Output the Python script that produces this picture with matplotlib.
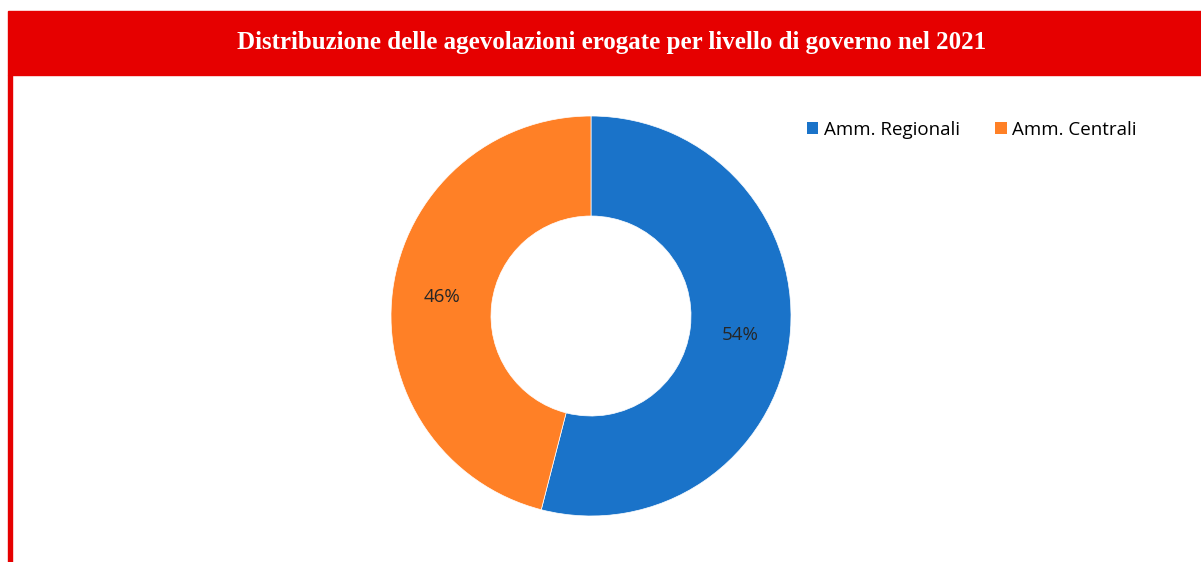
import matplotlib
matplotlib.use('Agg')
import matplotlib.pyplot as plt
from matplotlib.patches import Rectangle, Patch

labels = ['Amm. Regionali', 'Amm. Centrali']
values = [54, 46]
colors = ['#1a73c9', '#ff8026']
title = 'Distribuzione delle agevolazioni erogate per livello di governo nel 2021'

W, H = 1201, 562
fig = plt.figure(figsize=(W / 100, H / 100), dpi=100)
fig.set_facecolor('white')

red = '#e60000'
# title bar and left border
fig.patches.append(Rectangle((8 / W, 1 - 75 / H), 1 - 8 / W, 64 / H,
                             transform=fig.transFigure, color=red, zorder=0))
fig.patches.append(Rectangle((8 / W, 0), 3.5 / W, 1 - 75 / H,
                             transform=fig.transFigure, color=red, zorder=0))
fig.text(612 / W, 1 - 43 / H, title, ha='center', va='center', color='white',
         fontsize=18, fontweight='bold', family='Liberation Serif')

# donut
cx, cy, r = 591, 562 - 316, 200
ax = fig.add_axes([(cx - r) / W, (cy - r) / H, 2 * r / W, 2 * r / H])
wedges, texts, autotexts = ax.pie(values, colors=colors, startangle=90, counterclock=False,
                                  radius=1, autopct='%d%%', pctdistance=0.75,
                                  wedgeprops=dict(width=0.5, edgecolor='white', linewidth=0.5),
                                  textprops=dict(fontsize=13.5, color='#262626', family='Open Sans'))
ax.set_xlim(-1, 1)
ax.set_ylim(-1, 1)
ax.set_aspect('equal')
ax.axis('off')

handles = [Patch(facecolor=c, edgecolor='none') for c in colors]
fig.legend(handles, labels, loc='center left', bbox_to_anchor=(790 / W, 1 - 130 / H),
           ncol=2, frameon=False, handlelength=0.6, handleheight=0.6,
           handletextpad=0.3, columnspacing=1.9,
           prop=dict(family='Open Sans', size=13.5))

plt.savefig('out.png', dpi=100)
